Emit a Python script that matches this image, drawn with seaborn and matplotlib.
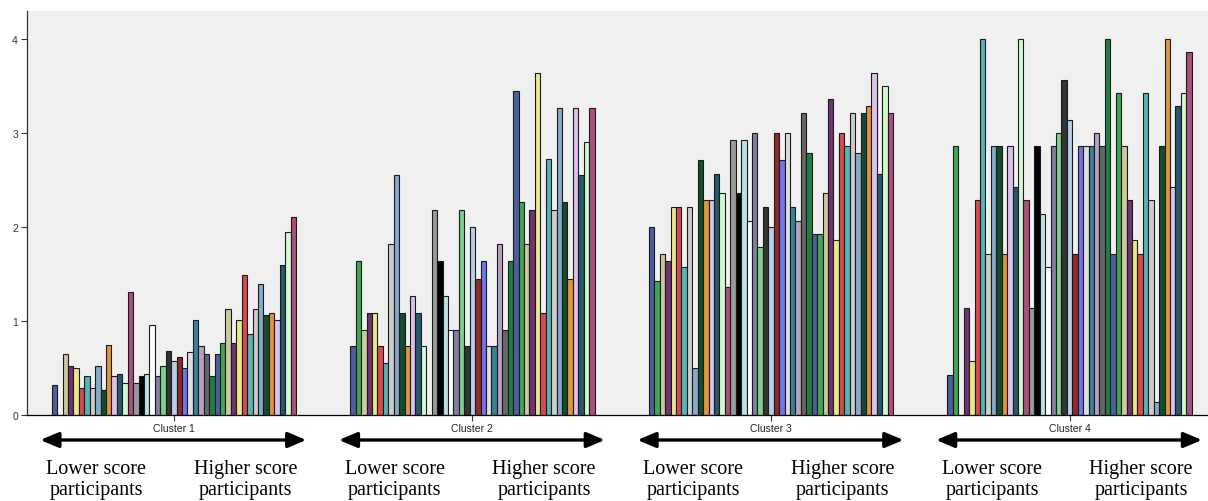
import numpy as np
import pandas as pd
import matplotlib
matplotlib.use("Agg")
import matplotlib.pyplot as plt
import seaborn as sns

# ---------------- data ----------------
cluster_labels = ["Cluster 1", "Cluster 2", "Cluster 3", "Cluster 4"]

cluster1 = [0.32, 0, 0.65, 0.52, 0.50, 0.29, 0.42, 0.29, 0.52, 0.27, 0.75, 0.41, 0.44, 0.34, 1.31,
            0.34, 0.42, 0.44, 0.96, 0.42, 0.52, 0.68, 0.57, 0.62, 0.50, 0.67, 1.01, 0.73, 0.65, 0.42,
            0.65, 0.77, 1.13, 0.77, 1.01, 1.49, 0.86, 1.13, 1.39, 1.06, 1.09, 1.01, 1.60, 1.95, 2.11]
cluster2 = [0.73, 1.64, 0.91, 1.09, 1.09, 0.73, 0.55, 1.82, 2.55, 1.09, 0.73, 1.27, 1.09, 0.73, 0,
            2.18, 1.64, 1.27, 0.91, 0.91, 2.18, 0.73, 2.00, 1.45, 1.64, 0.73, 0.73, 1.82, 0.91, 1.64,
            3.45, 2.27, 1.82, 2.18, 3.64, 1.09, 2.73, 2.18, 3.27, 2.27, 1.45, 3.27, 2.55, 2.91, 3.27]
cluster3 = [2.00, 1.43, 1.71, 1.64, 2.21, 2.21, 1.57, 2.21, 0.50, 2.71, 2.29, 2.29, 2.57, 2.36, 1.36,
            2.93, 2.36, 2.93, 2.07, 3.00, 1.79, 2.21, 2.00, 3.00, 2.71, 3.00, 2.21, 2.07, 3.21, 2.79,
            1.93, 1.93, 2.36, 3.36, 1.86, 3.00, 2.86, 3.21, 2.79, 3.21, 3.29, 3.64, 2.57, 3.50, 3.21]
cluster4 = [0.43, 2.86, 0, 1.14, 0.57, 2.29, 4.00, 1.71, 2.86, 2.86, 1.71, 2.86, 2.43, 4.00, 2.29,
            1.14, 2.86, 2.14, 1.57, 2.86, 3.00, 3.57, 3.14, 1.71, 2.86, 2.86, 2.86, 3.00, 2.86, 4.00,
            1.71, 3.43, 2.86, 2.29, 1.86, 1.71, 3.43, 2.29, 0.14, 2.86, 4.00, 2.43, 3.29, 3.43, 3.86]
clusters = [cluster1, cluster2, cluster3, cluster4]

y_ticks = [0, 1, 2, 3, 4]
lower_label = "Lower score\nparticipants"
higher_label = "Higher score\nparticipants"

# SPSS-like 30-colour categorical cycle
spss_colors = ["#3E58AC", "#2EB848", "#D3CE97", "#7C287D", "#FBF873", "#EF3338", "#48C2C5",
               "#CCCCCC", "#7AAAD5", "#0A562C", "#F8981D", "#DDBAF1", "#1A5F76", "#CCFFCC",
               "#BB3F7F", "#999999", "#000000", "#B6E7E8", "#FFFFFF", "#797AA7", "#70DC84",
               "#333333", "#ACD0EE", "#A21619", "#5D61FF", "#DDDDDD", "#248BAC", "#B89BC9",
               "#666666", "#0D8F41"]

# ---------------- build table ----------------
n_bars = len(cluster1)
stride = n_bars + 10  # cluster spacing in bar units
rows = []
for c, vals in enumerate(clusters):
    for i, v in enumerate(vals):
        rows.append({"pos": c * stride + i, "value": v, "participant": i + 1})
df = pd.DataFrame(rows)
palette = {i + 1: spss_colors[i % len(spss_colors)] for i in range(n_bars)}

# ---------------- figure ----------------
fig = plt.figure(figsize=(12.08, 5.02), dpi=100)
ax = fig.add_axes([27 / 1208, 86 / 502, 1 - 27 / 1208, (416 - 12) / 502])
ax.set_facecolor("#F0F0F0")

sns.barplot(data=df, x="pos", y="value", hue="participant", palette=palette,
            native_scale=True, dodge=False, width=1.0, errorbar=None, legend=False,
            edgecolor="#1a1a1a", linewidth=0.8, ax=ax)

ax.set_xlim(-5.05, 3 * stride + n_bars - 0.5 + 3.0)
ax.set_ylim(0, 4.3)
ax.set_xlabel("")
ax.set_ylabel("")

centers = [c * stride + (n_bars - 1) / 2 for c in range(len(clusters))]
ax.set_xticks(centers)
ax.set_xticklabels(cluster_labels, fontsize=7.5, family="Liberation Sans", color="#222222")
ax.set_yticks(y_ticks)
ax.set_yticklabels([str(t) for t in y_ticks], fontsize=7.5, family="Liberation Sans", color="#333333")
ax.tick_params(axis="x", length=4, width=0.8, pad=1.5, color="#333333")
ax.tick_params(axis="y", length=4.5, width=0.8, pad=2, color="#333333")

for s in ["top", "right"]:
    ax.spines[s].set_visible(False)
ax.spines["left"].set_color("#333333")
ax.spines["left"].set_linewidth(0.9)
ax.spines["bottom"].set_color("#000000")
ax.spines["bottom"].set_linewidth(0.9)

# arrows and annotations under each cluster
trans = ax.get_xaxis_transform()
arrow_y = -(441 - 416) / 404
text_y = -(480 - 416) / 404
for ctr in centers:
    ax.annotate("", xy=(ctr - 24.6, arrow_y), xytext=(ctr + 24.4, arrow_y),
                xycoords=trans, textcoords=trans, annotation_clip=False,
                arrowprops=dict(arrowstyle="<|-|>,head_length=1.0,head_width=0.42",
                                mutation_scale=11, lw=2.4, color="black",
                                shrinkA=0, shrinkB=0))
    ax.text(ctr - 14.3, text_y, lower_label, transform=trans, ha="center", va="center",
            fontsize=14.5, family="Liberation Serif", linespacing=1.12, clip_on=False)
    ax.text(ctr + 13.2, text_y, higher_label, transform=trans, ha="center", va="center",
            fontsize=14.5, family="Liberation Serif", linespacing=1.12, clip_on=False)

fig.savefig("out.png", dpi=100, facecolor="white")
